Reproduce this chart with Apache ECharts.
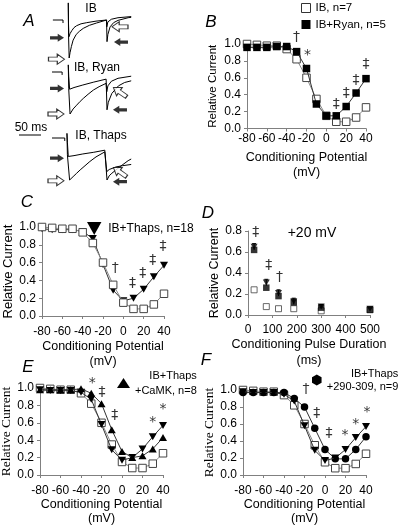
<!DOCTYPE html>
<html><head><meta charset="utf-8">
<script src="https://cdn.jsdelivr.net/npm/echarts@6/dist/echarts.min.js"></script>
<style>html,body{margin:0;padding:0;background:#fff}#c{width:400px;height:526px}</style>
</head><body><div id="c"></div>
<script>
// ---------- data ----------
const potentials = [-80,-70,-60,-50,-40,-30,-20,-10,0,10,20,30,40];
const potentialTicks = ['-80','-60','-40','-20','0','20','40'];
const controlIB = [1.00,0.99,0.98,0.98,0.94,0.82,0.60,0.35,0.15,0.08,0.08,0.13,0.25];
const ryanB     = [0.96,0.96,0.96,0.97,0.97,0.91,0.71,0.29,0.15,0.15,0.26,0.42,0.59];
const thapsIB   = [0.98,0.97,0.97,0.97,0.95,0.87,0.58,0.29,0.17,0.20,0.30,0.44,0.57];
const camkE     = [0.98,0.98,0.98,0.98,0.99,0.94,0.82,0.52,0.27,0.20,0.22,0.30,0.43];
const pepF      = [0.97,0.97,0.97,0.97,0.97,0.90,0.80,0.55,0.30,0.19,0.19,0.30,0.45];

const durations = [25,75,125,187.5,300,500];
const ctrlD  = [0.24,0.08,0.06,0.06,0.04,0.05];
const ryanD  = [0.62,0.26,0.18,0.12,0.07,0.05];
const thapsD = [0.65,0.31,0.21,0.13,0.08,0.06];
const errD   = [0.03,0.03,0.03,0.03,0.02,0.01];

// significance marks [x, y, symbol]
const marksB = [[-30,1.08,'†'],[-19,0.87,'*'],[10,0.29,'‡'],[20,0.42,'‡'],[30,0.57,'‡'],[40,0.76,'‡']];
const marksC = [[-8,0.53,'†'],[9,0.37,'‡'],[19,0.48,'‡'],[29,0.62,'‡'],[39,0.78,'‡']];
const marksD = [[32,0.79,'‡'],[85,0.47,'‡'],[129,0.36,'†']];
const marksE = [[-29,1.05,'*'],[-19.5,0.95,'‡'],[-7,0.69,'‡'],[30,0.6,'*'],[40,0.75,'*']];
const marksF = [[-18.5,1.01,'†'],[-8,0.73,'‡'],[4,0.49,'‡'],[19.5,0.47,'*'],[30,0.59,'*'],[41,0.74,'*']];

// Panel A current traces: [time ms, normalized current]
const ibOpen = [[37,0.45],[37.6,-0.4],[39,-1.0],[41,-0.86],[44,-0.7],[48,-0.53],[55,-0.38],[62,-0.3],[71,-0.22],[85,-0.14],[101,-0.08],[124,0.0],[124.5,-0.18],[127,-0.05],[135,0.02],[150,0.06],[180,0.09]];
const ibFilled = [[37,0.45],[37.5,-0.1],[38.5,-0.44],[41,-0.36],[45,-0.28],[50,-0.2],[56,-0.15],[66,-0.1],[79,-0.07],[100,-0.03],[124,0.0],[125,-0.57],[127,-0.38],[132,-0.18],[140,-0.07],[150,-0.01],[173,0.06],[180,0.07]];
const ryanOpen = [[37,0.17],[38,-0.4],[41,-1.0],[48,-0.88],[56,-0.79],[64,-0.7],[71,-0.63],[82,-0.53],[94,-0.43],[107,-0.35],[123,-0.27],[124.5,-0.47],[127,-0.33],[135,-0.22],[150,-0.15],[180,-0.1]];
const ryanFilled = [[37,0.17],[38,-0.1],[40,-0.41],[50,-0.37],[70,-0.31],[95,-0.24],[123,-0.17],[125,-0.9],[128,-0.72],[136,-0.51],[151,-0.33],[165,-0.25],[180,-0.21]];
const thapsOpen = [[34,0.11],[35,-0.4],[40,-1.0],[48,-0.92],[56,-0.84],[64,-0.76],[75,-0.66],[86,-0.56],[100,-0.45],[120,-0.33],[123,-0.31],[124.5,-0.8],[130,-0.75],[145,-0.69],[160,-0.66],[180,-0.63]];
const thapsFilled = [[34,0.11],[35,-0.1],[37,-0.44],[50,-0.42],[70,-0.38],[95,-0.34],[120,-0.29],[123,-0.28],[125,-1.0],[130,-0.9],[136,-0.84],[155,-0.68],[173,-0.54],[180,-0.5]];
const zeroMarks = [[[2,0],[25,0],[25,-0.08]], [[0,0],[23,0],[23,-0.07]], [[0,0],[29,0],[29,-0.07]]];
// arrows [t, current, kind]
const arrowsIB = [[11.4,-0.47,'fR'],[10.2,-1.03,'oR'],[154.5,-0.18,'oL'],[156.8,-0.58,'fL']];
const arrowsRyan = [[11.4,-0.39,'fR'],[9.1,-1.0,'oR'],[154.5,-0.48,'oUL'],[154.5,-0.9,'fL']];
const arrowsThaps = [[11.4,-0.48,'fR'],[9.1,-1.02,'oR'],[154.5,-0.81,'oUL'],[154.5,-1.04,'fL']];

// ---------- styles ----------
const SANS = 'Liberation Sans';
const SERIF = 'Liberation Serif';
const gray = '#808080';
const TRI_DOWN = 'path://M0,0 L10,0 L5,9 Z';
const HEX = 'path://M5,0 L10,2.9 L10,8.7 L5,11.5 L0,8.7 L0,2.9 Z';
const ARROW_R = 'path://M0,32 L55,32 L55,5 L100,50 L55,95 L55,68 L0,68 Z';
const ARROW_L = 'path://M100,32 L45,32 L45,5 L0,50 L45,95 L45,68 L100,68 Z';

function xAx(gi, min, max, interval, name, margin, gap, lh, nameSize) {
  return {gridIndex: gi, type:'value', min, max, interval,
    axisLine:{show:true, onZero:false, lineStyle:{color:gray,width:1}},
    axisTick:{show:true,length:3,inside:false,lineStyle:{color:gray}},
    splitLine:{show:false}, minorTick:{show:false},
    axisLabel:{show:true, fontSize:12, color:'#000', margin, fontFamily:SANS, hideOverlap:false,
      showMinLabel:true, showMaxLabel:true},
    name, nameLocation:'middle', nameGap:gap,
    nameTextStyle:{fontSize:nameSize||12.5, color:'#000', lineHeight:lh, fontFamily:SANS}};
}
function yAx(gi, max, name, gap, nameFont, nameSize) {
  return {gridIndex: gi, type:'value', min:0, max, interval:0.2,
    axisLine:{show:true, onZero:false, lineStyle:{color:gray,width:1}},
    axisTick:{show:true,length:3,inside:false,lineStyle:{color:gray}},
    splitLine:{show:false},
    axisLabel:{show:true, fontSize:12, color:'#000', margin:6, fontFamily:SANS,
      formatter: v => v.toFixed(1), showMinLabel:true, showMaxLabel:true},
    name, nameLocation:'middle', nameGap:gap, nameRotate:90,
    nameTextStyle:{fontSize:nameSize, color:'#000', fontFamily:nameFont}};
}
function hiddenAx(gi, min, max) {
  return {gridIndex:gi, type:'value', min, max, show:false, splitLine:{show:false}};
}

const openSq = {symbol:'rect', symbolSize:7.5, itemStyle:{color:'#fff', borderColor:'#444', borderWidth:1}, lineStyle:{color:'#8a8a8a', width:1}};
const fillSq = {symbol:'rect', symbolSize:7.5, itemStyle:{color:'#000', borderColor:'#000', borderWidth:0}, lineStyle:{color:'#333', width:1}};
const fillTri = {symbol:TRI_DOWN, symbolSize:[8,7], itemStyle:{color:'#000'}, lineStyle:{color:'#333', width:1}};
const fillUp = {symbol:'triangle', symbolSize:[8,7], itemStyle:{color:'#000'}, lineStyle:{color:'#333', width:1}};
const fillCirc = {symbol:'circle', symbolSize:7.5, itemStyle:{color:'#000'}, lineStyle:{color:'#333', width:1}};

function lineSeries(name, gi, xs, ys, style, z) {
  return Object.assign({type:'line', name, xAxisIndex:gi, yAxisIndex:gi,
    data: xs.map((x,i)=>[x, ys[i]]), showSymbol:true, showAllSymbol:true, clip:false, z:z||2,
    emphasis:{disabled:true}}, JSON.parse(JSON.stringify(style)));
}
function scatterSeries(name, gi, xs, ys, style, z) {
  const s = JSON.parse(JSON.stringify(style));
  delete s.lineStyle;
  return Object.assign({type:'scatter', name, xAxisIndex:gi, yAxisIndex:gi,
    data: xs.map((x,i)=>[x, ys[i]]), clip:false, z:z||2, emphasis:{disabled:true}}, s);
}
function markSeries(gi, marks) {
  return {type:'scatter', xAxisIndex:gi, yAxisIndex:gi, data:marks, symbolSize:0, clip:false, z:5,
    silent:true, itemStyle:{color:'transparent'},
    label:{show:true, position:'inside', formatter:p=>p.data[2], fontSize:14, color:'#000', fontFamily:'DejaVu Sans'}};
}
function traceSeries(gi, data) {
  return {type:'line', xAxisIndex:gi, yAxisIndex:gi, data, showSymbol:false, clip:false, silent:true,
    lineStyle:{color:'#000', width:1}, z:2};
}
function arrowSeries(gi, arrows) {
  return {type:'scatter', xAxisIndex:gi, yAxisIndex:gi, clip:false, silent:true, z:4,
    data: arrows.map(a => {
      const k = a[2];
      const filled = k[0] === 'f';
      return {value:[a[0], a[1]],
        symbol: k === 'fR' || k === 'oR' ? ARROW_R : ARROW_L,
        symbolSize: filled ? [14,8] : [16,10],
        symbolRotate: k === 'oUL' ? -35 : 0,
        itemStyle: filled ? {color:'#000'} : {color:'#fff', borderColor:'#000', borderWidth:1}};
    })};
}

const option = {
  animation:false,
  backgroundColor:'#fff',
  grid: [
    {left:52, top:1, width:79.2, height:60.8},
    {left:52, top:51, width:79.2, height:67.2},
    {left:52, top:117, width:79.2, height:67.2},
    {left:247, top:44, width:119, height:84.5},
    {left:42, top:227, width:122, height:89},
    {left:248, top:231, width:122, height:84},
    {left:40, top:388, width:123, height:87},
    {left:243, top:390, width:123, height:85}
  ].map(g => Object.assign({containLabel:false, outerBoundsMode:'none'}, g)),
  xAxis: [
    hiddenAx(0,0,180), hiddenAx(1,0,180), hiddenAx(2,0,180),
    xAx(3,-80,40,20,'Conditioning Potential\n(mV)',4,22,15),
    xAx(4,-80,40,20,'Conditioning Potential\n(mV)',10,22,15),
    xAx(5,0,500,100,'Conditioning Pulse Duration\n(ms)',9,21,16),
    xAx(6,-80,40,20,'Conditioning Potential\n(mV)',10,22,14),
    xAx(7,-80,40,20,'Conditioning Potential\n(mV)',10,22,14)
  ],
  yAxis: [
    hiddenAx(0,-1.1,0.5), hiddenAx(1,-1.1,0.5), hiddenAx(2,-1.1,0.5),
    yAx(3,1.0,'Relative Current',28,SANS,11.5),
    yAx(4,1.0,'Relative Current',26,SANS,13),
    yAx(5,0.8,'Relative Current',26,SANS,12.5),
    yAx(6,1.0,'Relative Current',24,SERIF,13.5),
    yAx(7,1.0,'Relative Current',27,SERIF,13.5)
  ],
  legend: [
    {data:[{name:'IB, n=7', icon:'rect', itemStyle:{color:'#fff', borderColor:'#333', borderWidth:1}},
           {name:'IB+Ryan, n=5', icon:'rect', itemStyle:{color:'#000'}}],
     orient:'vertical', left:296, top:-3, itemWidth:9, itemHeight:9, itemGap:4.5, selectedMode:false,
     textStyle:{fontSize:11.5, color:'#000', fontFamily:SANS}},
    {data:[{name:'IB+Thaps, n=18', icon:TRI_DOWN, itemStyle:{color:'#000'}}],
     left:82, top:217, itemWidth:18, itemHeight:13, selectedMode:false,
     textStyle:{fontSize:12, color:'#000', fontFamily:SANS}},
    {data:[{name:'IB+Thaps +CaMK, n=8', icon:'triangle', itemStyle:{color:'#000'}}],
     left:112, top:365, itemWidth:13, itemHeight:10, selectedMode:false,
     formatter: () => '{a|IB+Thaps}\n{a|+CaMK, n=8}',
     textStyle:{color:'#000', rich:{a:{align:'right', fontSize:11, lineHeight:15, fontFamily:SANS, color:'#000'}}}},
    {data:[{name:'IB+Thaps +290-309, n=9', icon:HEX, itemStyle:{color:'#000'}}],
     left:307, top:363, itemWidth:10, itemHeight:11, selectedMode:false,
     formatter: () => '{a|IB+Thaps}\n{a|+290-309, n=9}',
     textStyle:{color:'#000', rich:{a:{align:'right', fontSize:11, lineHeight:13, fontFamily:SANS, color:'#000'}}}}
  ],
  graphic: [
    {type:'text', x:29, y:21, style:{text:'A', font:'italic 17px "Liberation Sans"', fill:'#000', textAlign:'center', textVerticalAlign:'middle'}},
    {type:'text', x:211, y:22, style:{text:'B', font:'italic 17px "Liberation Sans"', fill:'#000', textAlign:'center', textVerticalAlign:'middle'}},
    {type:'text', x:27, y:202, style:{text:'C', font:'italic 17px "Liberation Sans"', fill:'#000', textAlign:'center', textVerticalAlign:'middle'}},
    {type:'text', x:208, y:213, style:{text:'D', font:'italic 17px "Liberation Sans"', fill:'#000', textAlign:'center', textVerticalAlign:'middle'}},
    {type:'text', x:28, y:367, style:{text:'E', font:'italic 17px "Liberation Sans"', fill:'#000', textAlign:'center', textVerticalAlign:'middle'}},
    {type:'text', x:206, y:360, style:{text:'F', font:'italic 17px "Liberation Sans"', fill:'#000', textAlign:'center', textVerticalAlign:'middle'}},
    {type:'text', x:312, y:233, style:{text:'+20 mV', font:'14px "Liberation Sans"', fill:'#000', textAlign:'center', textVerticalAlign:'middle'}},
    {type:'text', x:91, y:9, style:{text:'IB', font:'12px "Liberation Sans"', fill:'#000', textAlign:'center', textVerticalAlign:'middle'}},
    {type:'text', x:97, y:68, style:{text:'IB, Ryan', font:'12px "Liberation Sans"', fill:'#000', textAlign:'center', textVerticalAlign:'middle'}},
    {type:'text', x:101, y:136, style:{text:'IB, Thaps', font:'12px "Liberation Sans"', fill:'#000', textAlign:'center', textVerticalAlign:'middle'}},
    {type:'text', x:31, y:128, style:{text:'50 ms', font:'12px "Liberation Sans"', fill:'#000', textAlign:'center', textVerticalAlign:'middle'}},
    {type:'line', shape:{x1:19, y1:135, x2:41, y2:135}, style:{stroke:'#000', lineWidth:1}}
  ],
  series: [
    // Panel A
    traceSeries(0, ibOpen), traceSeries(0, ibFilled), traceSeries(0, zeroMarks[0]), arrowSeries(0, arrowsIB),
    traceSeries(1, ryanOpen), traceSeries(1, ryanFilled), traceSeries(1, zeroMarks[1]), arrowSeries(1, arrowsRyan),
    traceSeries(2, thapsOpen), traceSeries(2, thapsFilled), traceSeries(2, zeroMarks[2]), arrowSeries(2, arrowsThaps),
    // Panel B
    lineSeries('IB, n=7', 3, potentials, controlIB, openSq, 2),
    lineSeries('IB+Ryan, n=5', 3, potentials, ryanB, fillSq, 3),
    markSeries(3, marksB),
    // Panel C
    lineSeries('IB+Thaps, n=18', 4, potentials, thapsIB, fillTri, 2),
    lineSeries('control C', 4, potentials, controlIB, openSq, 3),
    markSeries(4, marksC),
    // Panel D
    {type:'custom', xAxisIndex:5, yAxisIndex:5, silent:true, z:1, clip:false,
     data: durations.map((d,i)=>[d, thapsD[i]-errD[i], thapsD[i]+errD[i]]),
     renderItem:(params, api) => {
       const lo = api.coord([api.value(0), api.value(1)]);
       const hi = api.coord([api.value(0), api.value(2)]);
       return {type:'group', children:[
         {type:'line', shape:{x1:lo[0], y1:lo[1], x2:hi[0], y2:hi[1]}, style:{stroke:'#000', lineWidth:1}},
         {type:'line', shape:{x1:hi[0]-2, y1:hi[1], x2:hi[0]+2, y2:hi[1]}, style:{stroke:'#000', lineWidth:1}}]};
     }},
    scatterSeries('control D', 5, durations, ctrlD, Object.assign({}, openSq, {symbolSize:6})),
    scatterSeries('Ryan D', 5, durations, ryanD, Object.assign({}, fillSq, {symbolSize:6.5})),
    scatterSeries('Thaps D', 5, durations, thapsD, Object.assign({}, fillTri, {symbolSize:[7,6]})),
    markSeries(5, marksD),
    // Panel E
    lineSeries('control E', 6, potentials, controlIB, openSq, 2),
    lineSeries('thaps E', 6, potentials, thapsIB, fillTri, 3),
    lineSeries('IB+Thaps +CaMK, n=8', 6, potentials, camkE, fillUp, 4),
    markSeries(6, marksE),
    // Panel F
    lineSeries('control F', 7, potentials, controlIB, openSq, 2),
    lineSeries('IB+Thaps +290-309, n=9', 7, potentials, pepF, fillCirc, 3),
    lineSeries('thaps F', 7, potentials, thapsIB, fillTri, 4),
    markSeries(7, marksF)
  ]
};
const chart = echarts.init(document.getElementById('c'), null, {renderer:'canvas', width:400, height:526});
chart.setOption(option);
</script></body></html>
